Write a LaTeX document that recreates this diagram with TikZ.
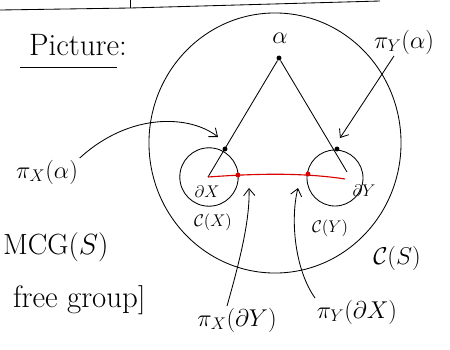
\documentclass[tikz,border=0pt]{standalone}
\usepackage{amsmath, amssymb}
\usepackage{xcolor}
\usepackage{tikz}
\usetikzlibrary{positioning, arrows.meta}

\begin{document}
\begin{tikzpicture}[
    x=0.025cm, y=-0.025cm,
    every path/.style={semithick},
    bigLabel/.style={font=\fontsize{18}{20}\selectfont, inner sep=1pt},
    smallLabel/.style={font=\fontsize{12}{14}\selectfont, inner sep=1pt},
    pointer/.style={-{Straight Barb[length=5pt, width=8pt]}},
    vertex/.style={circle, fill=black, inner sep=0pt, minimum size=3.5pt},
    redVertex/.style={circle, fill=red!85!black, inner sep=0pt, minimum size=3.5pt}
]
\useasboundingbox (0,0) rectangle (450,350);

% top rule of the page
\draw (0,10) -- (130,8) -- (380,1);
\draw (130,0) -- (130,8);

% heading
\node[font=\fontsize{22}{26}\selectfont] (pic) at (78,45) {Picture:};
\draw (20,67) -- (117,67);

% left margin notes
\node[font=\fontsize{20}{24}\selectfont, anchor=west] (mcg) at (-2,247) {$\mathrm{MCG}(S)$};
\node[font=\fontsize{22}{26}\selectfont, anchor=west] (free) at (8,300) {free group$]$};

% the surface S
\draw (275,143) ellipse (3.15cm and 3.25cm);
\node[smallLabel, font=\fontsize{16}{18}\selectfont] (CS) at (397,258) {$\mathcal{C}(S)$};

% the arc alpha
\node[vertex] (apex) at (279,58) {};
\node[bigLabel] (alpha) at (280,38) {$\alpha$};
\coordinate (dX) at (209,177);
\coordinate (dY) at (335,178);
\coordinate (footX) at (208,177);
\coordinate (footY) at (347,172);

% curve complexes of X and Y
\draw (dX) circle (0.73cm);
\draw (dY) circle (0.70cm);
\node[smallLabel] (dXl) at (207,192) {$\partial X$};
\node[smallLabel] (dYl) at (364,191) {$\partial Y$};
\node[smallLabel] (CX) at (213,222) {$\mathcal{C}(X)$};
\node[smallLabel] (CY) at (330,228) {$\mathcal{C}(Y)$};

\draw (apex) -- (footX);
\draw (apex) -- (footY);
\node[vertex] (pXa) at (225,149) {};
\node[vertex] (pYa) at (337,149) {};

% red arc between the boundaries
\draw[red!85!black, thick] (footX) .. controls (250,174) and (300,172) .. (345,179);
\node[redVertex] (pXd) at (238,175) {};
\node[redVertex] (pYd) at (308,174) {};

% projections
\node[bigLabel] (piXa) at (47,172) {$\pi_X(\alpha)$};
\node[bigLabel] (piYa) at (404,42) {$\pi_Y(\alpha)$};
\node[bigLabel] (piXdY) at (237,320) {$\pi_X(\partial Y)$};
\node[bigLabel] (piYdX) at (357,312) {$\pi_Y(\partial X)$};

\draw[pointer] (piXa.north east) .. controls (130,112) and (190,115) .. (218,137);
\draw[pointer] (piYa.south) ++(-10,0) -- (340,138);
\draw[pointer] (piXdY.north) ++(-10,0) .. controls (240,260) and (250,220) .. (249,188);
\draw[pointer] (piYdX.north west) .. controls (295,270) and (290,220) .. (298,188);

\end{tikzpicture}
\end{document}
